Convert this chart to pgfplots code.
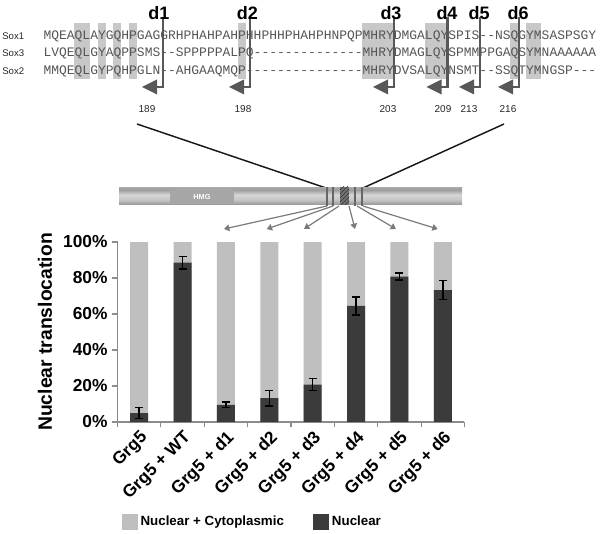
\documentclass[border=0pt]{standalone}
\usepackage{fontspec}
\setmainfont{Liberation Sans}
\setmonofont{Liberation Mono}
\usepackage{pgfplots}
\usepackage{pgfplotstable}
\pgfplotsset{compat=1.18}
\usetikzlibrary{patterns,arrows.meta}

\definecolor{lightbar}{HTML}{BFBFBF}
\definecolor{darkbar}{HTML}{3B3B3B}
\definecolor{boxgray}{HTML}{C8C8C8}
\definecolor{seqgray}{HTML}{555555}
\definecolor{arrowgray}{HTML}{585858}
\definecolor{axisgray}{HTML}{8C8C8C}
\definecolor{conngray}{HTML}{7A7A7A}
\definecolor{hmggray}{HTML}{A6A6A6}
\definecolor{tb1}{HTML}{8E8E8E}
\definecolor{tb2}{HTML}{7E7E7E}
\definecolor{tb3}{HTML}{C4C4C4}
\definecolor{tb4}{HTML}{D6D6D6}
\definecolor{tb5}{HTML}{9C9C9C}
\definecolor{tb6}{HTML}{B8B8B8}
\definecolor{tb7}{HTML}{E6E6E6}
\pgfdeclareverticalshading{tube}{100bp}{color(0bp)=(tb1); color(18bp)=(tb2); color(40bp)=(tb3); color(55bp)=(tb4); color(70bp)=(tb5); color(85bp)=(tb6); color(100bp)=(tb7)}

% nuclear share, its error, and the full bar (nuclear + cytoplasmic)
\pgfplotstableread{
x nuc err all
0 5.0 3.0 100
1 88.5 3.5 100
2 9.5 1.5 100
3 13.2 4.2 100
4 20.8 3.4 100
5 64.5 5.0 100
6 80.8 2.0 100
7 73.3 5.2 100
}\transtable

\begin{document}
\begin{tikzpicture}
\path[use as bounding box] (0,0) rectangle (450pt,-400.5pt);

\begin{scope}[x=0.75pt,y=-0.75pt]
% alignment highlight boxes
\foreach \a/\b in {5/6,8/8,10/10,12/12,26/26,42/45,50/52,61/61,63/64}
  \fill[boxgray] ({43.3+(\a-1)*7.78},22.7) rectangle ({43.3+\b*7.78},79.3);
% sequences
\foreach \y/\nm/\sq in {39.3/Sox1/MQEAQLAYGQHPGAGGRHPHAHPAHPHHPHHPHAHPHNPQPMHRYDMGALQYSPIS--NSQGYMSASPSGY,
                       56.9/Sox3/LVQEQLGYAQPPSMS--SPPPPPALPQ--------------MHRYDMAGLQYSPMMPPGAQSYMNAAAAAA,
                       74.5/Sox2/MMQEQLGYPQHPGLN--AHGAAQMQP---------------MHRYDVSALQYNSMT--SSQTYMNGSP---}{
  \node[anchor=base west, inner sep=0pt, font=\fontsize{7.2}{8}\selectfont, text=black!85] at (2,\y) {\nm};
  \node[anchor=base west, inner sep=0pt, font=\ttfamily\fontsize{9.73}{10}\selectfont, text=seqgray] at (43.3,\y) {\sq};
}
% deletion arrows
\foreach \sx/\lab/\lx/\num/\nx in {163/d1/159/189/147, 250/d2/247.5/198/243, 394/d3/391/203/388,
                                   447.5/d4/447/209/443, 480/d5/479/213/469, 519/d6/518/216/508}{
  \draw[arrowgray, line width=1.9pt] (\sx,17) -- (\sx,87) -- ({\sx-8},87);
  \fill[arrowgray] ({\sx-21},87) -- ({\sx-6},79.5) -- ({\sx-6},94.5) -- cycle;
  \node[anchor=base, inner sep=0pt, font=\fontsize{13.5}{14}\selectfont\bfseries] at (\lx,19.5) {\lab};
  \node[anchor=base, inner sep=0pt, font=\fontsize{7.5}{8}\selectfont, text=black!85] at (\nx,113) {\num};
}
% zoom lines
\draw[black!90, line width=1.1pt] (137,124) -- (326,188);
\draw[black!90, line width=1.1pt] (504,124) -- (363,188);
% protein
\shade[shading=tube] (119,188) rectangle (462,205);
\fill[hmggray] (170,189) rectangle (234,204);
\node[font=\fontsize{5.5}{6}\selectfont\bfseries, text=white] at (202,196.5) {HMG};
\foreach \cx in {327,333,355,362}{
  \draw[white, line width=2pt] (\cx,187) -- (\cx,206);
  \draw[black!60, line width=0.8pt] (\cx,187) -- (\cx,206);
}
\fill[black!55] (340,187) rectangle (349,205);
\fill[pattern=north east lines, pattern color=black!80] (340,187) rectangle (349,205);
% connectors to the bars
\foreach \sx/\ex in {327/224, 333/266.7, 339/304, 349/355, 357/396, 363/437.7}
  \draw[conngray, line width=0.9pt, -{Triangle[width=5pt,length=4pt]}] (\sx,206) -- (\ex,229);
\end{scope}

\begin{axis}[
  at={(88.125pt,-316.5pt)}, anchor=south west,
  scale only axis, width=260.25pt, height=135pt,
  xmin=-0.5, xmax=7.5, ymin=0, ymax=100,
  ybar, bar width=13.5pt, bar shift=0pt,
  axis x line=bottom, axis y line=left,
  axis line style={axisgray, line width=0.8pt, -},
  tick align=outside, major tick length=4pt, minor tick length=4pt,
  tick style={axisgray, line width=0.8pt},
  xtick={0,...,7},
  xticklabels={Grg5, Grg5 + WT, Grg5 + d1, Grg5 + d2, Grg5 + d3, Grg5 + d4, Grg5 + d5, Grg5 + d6},
  major x tick style={draw=none},
  minor xtick={-0.5,0.5,...,7.5},
  ytick={0,20,...,100},
  yticklabel={\pgfmathprintnumber{\tick}\%},
  /pgf/number format/assume math mode=true,
  ticklabel style={font=\fontsize{13}{14}\selectfont\bfseries},
  x tick label style={rotate=45, anchor=north east, inner sep=1pt},
  ylabel={Nuclear translocation},
  ylabel style={font=\fontsize{14.5}{16}\selectfont\bfseries, at={(axis description cs:-0.189,0.5)}, anchor=base},
  legend columns=2,
  legend style={at={(axis description cs:0.012,-0.556)}, anchor=west, draw=none, fill=none, inner sep=0pt,
    font=\fontsize{10}{12}\selectfont\bfseries, /tikz/every even column/.append style={column sep=20pt}},
  legend image code/.code={\fill[#1] (0pt,-6pt) rectangle (12pt,6pt);},
]
\addplot[fill=lightbar, draw=none] table[x=x, y=all] {\transtable};
\addlegendentry{Nuclear + Cytoplasmic}
\addplot[fill=darkbar, draw=none,
  error bars/.cd, y dir=both, y explicit,
  error bar style={black, line width=1.1pt},
  error mark options={rotate=90, mark size=3pt, black, line width=1.1pt}]
  table[x=x, y=nuc, y error=err] {\transtable};
\addlegendentry{Nuclear}
\end{axis}
\end{tikzpicture}
\end{document}
